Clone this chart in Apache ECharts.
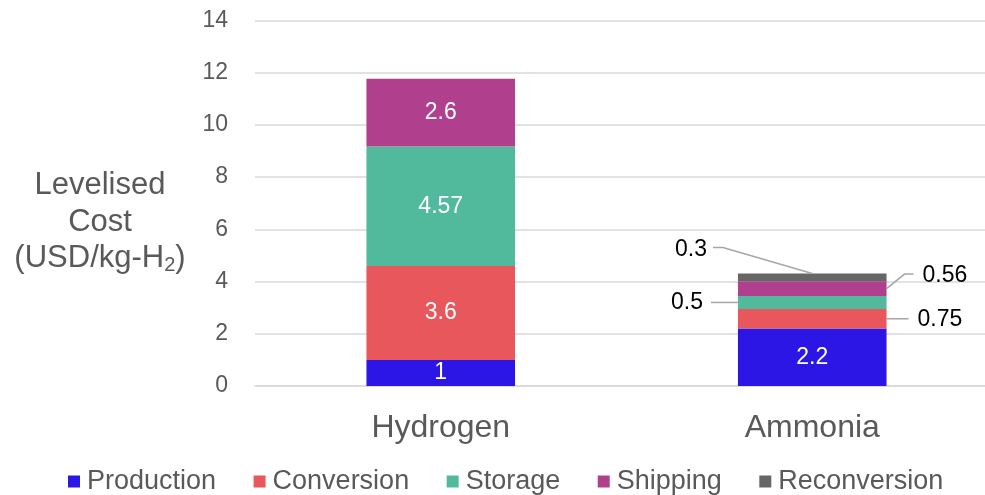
<!DOCTYPE html>
<html>
<head>
<meta charset="utf-8">
<script src="https://cdn.jsdelivr.net/npm/echarts@6/dist/echarts.min.js"></script>
<style>
  html, body { margin: 0; padding: 0; background: #fff; overflow: hidden; }
  /* the plot runs on past the right edge of the page, so the canvas is a bit wider */
  #chart { width: 1000px; height: 495px; }
</style>
</head>
<body>
<div id="chart"></div>
<script>
// Levelised cost of delivered hydrogen by carrier, split into cost stages
const categories = ['Hydrogen', 'Ammonia'];
const production = [1, 2.2];
const conversion = [3.6, 0.75];
const storage = [4.57, 0.5];
const shipping = [2.6, 0.56];
const reconversion = [null, 0.3];
const stageNames = ['Production', 'Conversion', 'Storage', 'Shipping', 'Reconversion'];
const yMin = 0, yMax = 14, yStep = 2;

const stageValues = [production, conversion, storage, shipping, reconversion];
const stageColors = ['#2C16E6', '#E8575B', '#52BA9C', '#B0408E', '#666666'];
const FONT = '"Liberation Sans", Arial, sans-serif';
const GREY_TEXT = '#595959';

// Thin segments of the Ammonia bar get their value outside, joined by a leader line
const AMMONIA = 1;
const outsideLabel = {
  Conversion:   { position: 'right', distance: 31, offset: [0, 1],   leader: 'right' },
  Storage:      { position: 'left',  distance: 35, offset: [0, 0],   leader: 'left' },
  Shipping:     { position: 'right', distance: 36, offset: [0, -13], leader: 'rightUp' },
  Reconversion: { position: 'left',  distance: 31, offset: [0, -28], leader: 'topLeft' }
};

const barSeries = stageNames.map((name, s) => ({
  name,
  type: 'bar',
  stack: 'cost',
  barCategoryGap: '60%',
  itemStyle: { color: stageColors[s] },
  data: stageValues[s].map((v, c) => {
    if (v == null) return '-';
    const out = c === AMMONIA ? outsideLabel[name] : null;
    return {
      value: v,
      label: out ? {
        show: true, position: out.position, distance: out.distance, offset: out.offset,
        color: '#000', fontSize: 23, fontFamily: FONT
      } : {
        show: true, position: 'inside', color: '#fff', fontSize: 23, fontFamily: FONT
      }
    };
  })
}));

// Leader lines: [category index, segment bottom, segment top] for every outside label
const leaderData = [];
const leaderKind = [];
let base = 0;
stageNames.forEach((name, s) => {
  const v = stageValues[s][AMMONIA];
  if (v == null) return;
  if (outsideLabel[name]) {
    leaderData.push([AMMONIA, base, base + v]);
    leaderKind.push(outsideLabel[name].leader);
  }
  base += v;
});

const leaderSeries = {
  type: 'custom',
  silent: true,
  z: 5,
  clip: false,
  encode: { x: 0, y: 1 },
  data: leaderData,
  renderItem(params, api) {
    const cat = api.value(0), lo = api.value(1), hi = api.value(2);
    const mid = api.coord([cat, (lo + hi) / 2]);
    const top = api.coord([cat, hi]);
    const half = api.size([1, 0])[0] * 0.4 / 2;
    const xl = mid[0] - half, xr = mid[0] + half;
    let pts;
    switch (leaderKind[params.dataIndex]) {
      case 'topLeft': pts = [[xl - 25, top[1] - 26], [xl - 15, top[1] - 26], [mid[0], top[1]]]; break;
      case 'rightUp': pts = [[xr, mid[1]], [xr + 18, mid[1] - 14.5], [xr + 27, mid[1] - 14.5]]; break;
      case 'left':    pts = [[xl - 27, mid[1]], [xl, mid[1]]]; break;
      default:        pts = [[xr, mid[1]], [xr + 22, mid[1]]];
    }
    return {
      type: 'polyline',
      shape: { points: pts },
      style: { stroke: '#A6A6A6', lineWidth: 1.5, fill: null }
    };
  }
};

const chart = echarts.init(document.getElementById('chart'), null, { renderer: 'canvas' });
chart.setOption({
  animation: false,
  backgroundColor: '#fff',
  textStyle: { fontFamily: FONT },
  grid: { left: 255, top: 20.5, right: 2, bottom: 109, containLabel: false },
  legend: {
    data: stageNames,
    left: 63,
    top: 463,
    icon: 'rect',
    itemWidth: 12,
    itemHeight: 12,
    itemGap: 37.5,
    textStyle: { color: GREY_TEXT, fontSize: 27, fontFamily: FONT, padding: [0, 0, 0, 2] }
  },
  xAxis: {
    type: 'category',
    data: categories,
    axisLine: { show: true, lineStyle: { color: '#D9D9D9', width: 1.5 } },
    axisTick: { show: false },
    axisLabel: { color: GREY_TEXT, fontSize: 32, fontFamily: FONT, margin: 26 }
  },
  yAxis: {
    type: 'value',
    min: yMin, max: yMax, interval: yStep,
    axisLine: { show: false },
    axisTick: { show: false },
    splitLine: { lineStyle: { color: '#D9D9D9', width: 1.5 } },
    axisLabel: { color: GREY_TEXT, fontSize: 23, fontFamily: FONT, margin: 27 }
  },
  graphic: [{
    type: 'text',
    x: 100,
    y: 222,
    style: {
      text: '{a|Levelised}\n{a|Cost}\n{a|(USD/kg-H}{s|2}{a|)}',
      align: 'center',
      verticalAlign: 'middle',
      fill: GREY_TEXT,
      font: '31px ' + FONT,
      rich: {
        a: { fontSize: 31, lineHeight: 36.5, fontFamily: FONT, fill: GREY_TEXT, color: GREY_TEXT },
        s: { fontSize: 20, lineHeight: 36.5, fontFamily: FONT, fill: GREY_TEXT, color: GREY_TEXT, padding: [14, 0, 0, 0] }
      }
    }
  }],
  series: [...barSeries, leaderSeries]
});
</script>
</body>
</html>
